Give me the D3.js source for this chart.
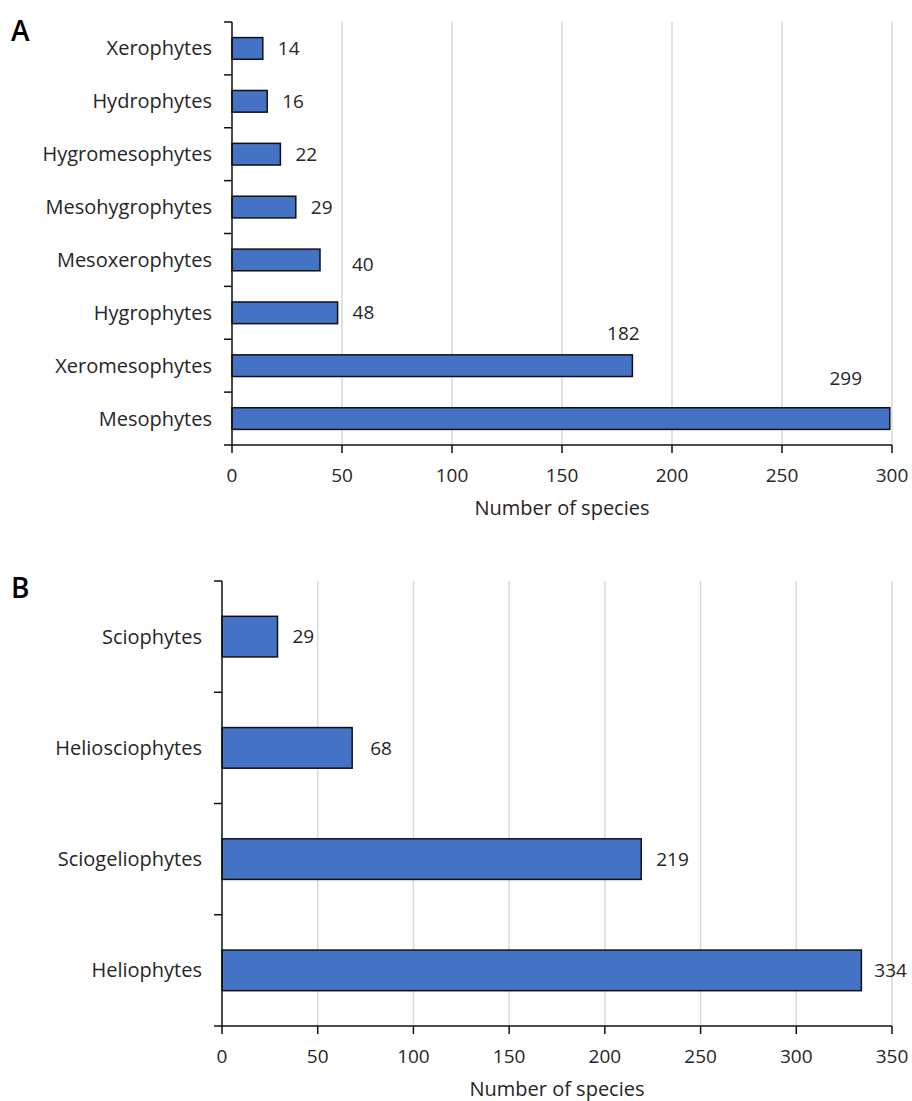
<!DOCTYPE html>
<html>
<head>
<meta charset="utf-8">
<script src="https://cdn.jsdelivr.net/npm/d3@7"></script>
<style>
  html, body { margin: 0; padding: 0; background: #fff; }
  svg { display: block; font-family: "Open Sans", sans-serif; }
  .cat-label { font-size: 20px; fill: #262626; }
  .tick-label { font-size: 19px; fill: #262626; }
  .value-label { font-size: 19px; fill: #262626; }
  .axis-title { font-size: 20px; fill: #262626; }
  .panel-letter { font-size: 28px; font-weight: 600; fill: #000; }
</style>
</head>
<body>
<svg id="chart" width="912" height="1101"></svg>
<script>
// ---------- Data ----------
const moistureCategories = ['Xerophytes', 'Hydrophytes', 'Hygromesophytes', 'Mesohygrophytes',
  'Mesoxerophytes', 'Hygrophytes', 'Xeromesophytes', 'Mesophytes'];
const moistureCounts = [14, 16, 22, 29, 40, 48, 182, 299];
const moistureTicks = [0, 50, 100, 150, 200, 250, 300];

const lightCategories = ['Sciophytes', 'Heliosciophytes', 'Sciogeliophytes', 'Heliophytes'];
const lightCounts = [29, 68, 219, 334];
const lightTicks = [0, 50, 100, 150, 200, 250, 300, 350];

const axisTitle = 'Number of species';

const svg = d3.select('#chart');

// Draw one horizontal bar panel
function drawPanel({ letter, letterPos, categories, values, ticks, left, right, top, bottom, barFrac, labelTweaks }) {
  const g = svg.append('g');

  const x = d3.scaleLinear().domain([0, ticks[ticks.length - 1]]).range([left, right]);
  const y = d3.scaleBand().domain(categories).range([top, bottom]).padding(0);
  const barH = y.bandwidth() * barFrac;

  // Gridlines
  g.append('g').selectAll('line')
    .data(ticks.slice(1))
    .join('line')
    .attr('x1', d => x(d)).attr('x2', d => x(d))
    .attr('y1', top).attr('y2', bottom)
    .attr('stroke', '#d9d9d9')
    .attr('stroke-width', 1.5);

  // Bars
  const rows = categories.map((c, i) => ({ cat: c, value: values[i] }));
  g.append('g').selectAll('rect')
    .data(rows)
    .join('rect')
    .attr('x', x(0))
    .attr('y', d => y(d.cat) + (y.bandwidth() - barH) / 2)
    .attr('width', d => x(d.value) - x(0))
    .attr('height', barH)
    .attr('fill', '#4472c4')
    .attr('stroke', '#111')
    .attr('stroke-width', 1.5);

  // Value labels (a few are nudged the way they sit in the original)
  g.append('g').selectAll('text')
    .data(rows)
    .join('text')
    .attr('class', 'value-label')
    .attr('x', d => {
      const t = labelTweaks[d.cat];
      return x(d.value) + (t ? t.dx : 15);
    })
    .attr('y', d => {
      const t = labelTweaks[d.cat];
      return y(d.cat) + y.bandwidth() / 2 + (t ? t.dy : 0);
    })
    .attr('dy', '0.35em')
    .attr('text-anchor', d => labelTweaks[d.cat] && labelTweaks[d.cat].anchor || 'start')
    .text(d => d.value);

  // Y axis
  const yAxis = g.append('g');
  yAxis.append('line')
    .attr('x1', left).attr('x2', left)
    .attr('y1', top).attr('y2', bottom)
    .attr('stroke', '#111').attr('stroke-width', 1.5);
  const bounds = categories.map(c => y(c)).concat([bottom]);
  yAxis.selectAll('line.tick')
    .data(bounds)
    .join('line')
    .attr('class', 'tick')
    .attr('x1', left - 8).attr('x2', left)
    .attr('y1', d => d).attr('y2', d => d)
    .attr('stroke', '#111').attr('stroke-width', 1.5);
  yAxis.selectAll('text')
    .data(categories)
    .join('text')
    .attr('class', 'cat-label')
    .attr('x', left - 20)
    .attr('y', d => y(d) + y.bandwidth() / 2)
    .attr('dy', '0.35em')
    .attr('text-anchor', 'end')
    .text(d => d);

  // X axis
  const xAxis = g.append('g');
  xAxis.append('line')
    .attr('x1', left).attr('x2', right)
    .attr('y1', bottom).attr('y2', bottom)
    .attr('stroke', '#111').attr('stroke-width', 1.5);
  xAxis.selectAll('line.tick')
    .data(ticks)
    .join('line')
    .attr('class', 'tick')
    .attr('x1', d => x(d)).attr('x2', d => x(d))
    .attr('y1', bottom).attr('y2', bottom + 8)
    .attr('stroke', '#111').attr('stroke-width', 1.5);
  xAxis.selectAll('text')
    .data(ticks)
    .join('text')
    .attr('class', 'tick-label')
    .attr('x', d => x(d))
    .attr('y', bottom + 37)
    .attr('text-anchor', 'middle')
    .text(d => d);

  g.append('text')
    .attr('class', 'axis-title')
    .attr('x', (left + right) / 2)
    .attr('y', bottom + 70)
    .attr('text-anchor', 'middle')
    .text(axisTitle);

  g.append('text')
    .attr('class', 'panel-letter')
    .attr('x', letterPos[0])
    .attr('y', letterPos[1])
    .text(letter);
}

drawPanel({
  letter: 'A', letterPos: [11, 41],
  categories: moistureCategories, values: moistureCounts, ticks: moistureTicks,
  left: 232, right: 892, top: 22, bottom: 445, barFrac: 0.41,
  labelTweaks: {
    'Mesoxerophytes': { dx: 32, dy: 4 },
    'Xeromesophytes': { dx: -9, dy: -32, anchor: 'middle' },
    'Mesophytes': { dx: -44, dy: -40, anchor: 'middle' }
  }
});

drawPanel({
  letter: 'B', letterPos: [11, 598],
  categories: lightCategories, values: lightCounts, ticks: lightTicks,
  left: 222, right: 892, top: 581, bottom: 1026, barFrac: 0.365,
  labelTweaks: {
    'Heliosciophytes': { dx: 18, dy: 0 },
    'Heliophytes': { dx: 13, dy: 0 }
  }
});
</script>
</body>
</html>
